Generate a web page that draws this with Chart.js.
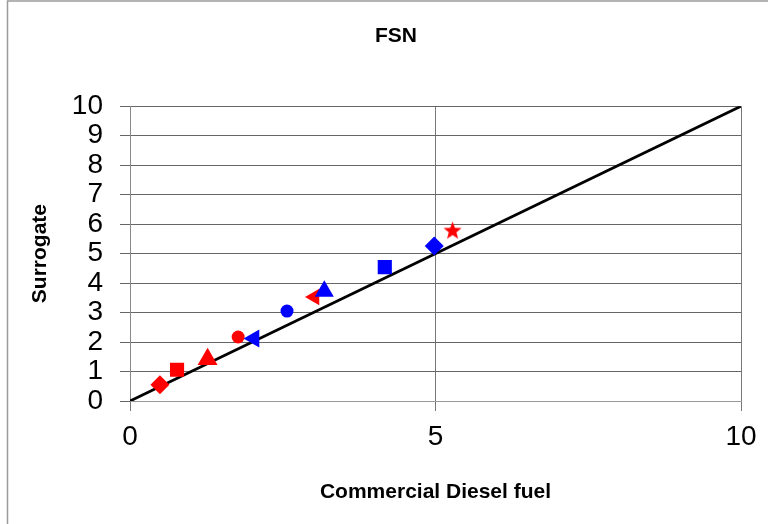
<!DOCTYPE html>
<html>
<head>
<meta charset="utf-8">
<script src="https://cdn.jsdelivr.net/npm/chart.js@4/dist/chart.umd.min.js"></script>
<style>
  body { margin: 0; background: #fff; }
</style>
</head>
<body>
<canvas id="fsnChart" width="768" height="524"></canvas>
<script>
// values
const fuelValues      = [0.49, 0.77, 1.27, 1.77, 2.03, 2.57, 3.02, 3.18, 4.17, 4.98, 5.28];
const surrogateValues = [0.55, 1.06, 1.42, 2.17, 2.12, 3.05, 3.53, 3.72, 4.54, 5.26, 5.80];
const parityX = [0, 10];
const parityY = [0, 10];

// marker looks, one per point
const RED = "#ff0000", BLUE = "#0000ff";
const markerColors = [RED, RED, RED, RED, BLUE, BLUE, RED, BLUE, BLUE, BLUE, RED];
const markerShapes = ["rectRot", "rect", "triangle", "circle", "triangle", "circle", "triangle", "triangle", "rect", "rectRot", "star"];
const markerRadius = [9.5, 10, 11.5, 6.5, 10.5, 6.5, 9.5, 11, 10, 9.5, 9];
const markerRotation = [0, 0, 0, 0, -90, 0, -90, 0, 0, 0, 0];

const FONT = "'Liberation Sans', Arial, sans-serif";

// filled five point star, chart.js "star" is only an asterisk
function starImage(color, outer, inner) {
    const c = document.createElement("canvas");
    c.width = c.height = Math.ceil(outer * 2 + 2);
    const g = c.getContext("2d");
    const cx = c.width / 2, cy = c.height / 2 + 1;
    g.beginPath();
    for (let i = 0; i < 10; i++) {
        const r = i % 2 ? inner : outer;
        const a = -Math.PI / 2 + i * Math.PI / 5;
        g.lineTo(cx + r * Math.cos(a), cy + r * Math.sin(a));
    }
    g.closePath();
    g.fillStyle = color;
    g.fill();
    return c;
}

const pointStyles = markerShapes.map((s, i) => s === "star" ? starImage(markerColors[i], markerRadius[i] + 0.5, 4) : s);

const framePlugin = {
    id: "frame",
    beforeDraw(chart) {
        const ctx = chart.ctx;
        ctx.save();
        ctx.strokeStyle = "#9a9a9a";
        ctx.lineWidth = 1.5;
        ctx.beginPath();
        ctx.moveTo(7.5, chart.height);
        ctx.lineTo(7.5, 1);
        ctx.lineTo(chart.width, 1);
        ctx.stroke();
        ctx.restore();
    }
};

new Chart(document.getElementById("fsnChart"), {
    type: "scatter",
    data: {
        datasets: [
            {
                label: "FSN",
                data: fuelValues.map((x, i) => ({ x: x, y: surrogateValues[i] })),
                backgroundColor: markerColors,
                borderColor: markerColors,
                borderWidth: 0,
                pointStyle: pointStyles,
                pointRadius: markerRadius,
                pointRotation: markerRotation,
                pointHoverRadius: markerRadius,
            },
            {
                type: "line",
                label: "y = x",
                data: parityX.map((x, i) => ({ x: x, y: parityY[i] })),
                borderColor: "#000",
                borderWidth: 2.8,
                pointRadius: 0,
                fill: false,
            },
        ],
    },
    options: {
        responsive: false,
        animation: false,
        layout: { padding: { left: 24, right: 0, top: 0, bottom: 0 } },
        plugins: {
            legend: { display: false },
            tooltip: { enabled: false },
            title: {
                display: true,
                text: "FSN",
                color: "#000",
                font: { family: FONT, size: 21, weight: "bold" },
                padding: { top: 24, bottom: 57 },
            },
        },
        scales: {
            x: {
                type: "linear",
                min: 0,
                max: 10,
                afterFit: (s) => { s.height = 123; },
                ticks: { stepSize: 5, autoSkip: false, maxRotation: 0, color: "#000", padding: 9, font: { family: FONT, size: 28 } },
                grid: { color: "#777", tickLength: 10, lineWidth: 1 },
                border: { color: "#999", width: 1 },
                title: {
                    display: true,
                    text: "Commercial Diesel fuel",
                    color: "#000",
                    font: { family: FONT, size: 21, weight: "bold" },
                    padding: { top: 0, bottom: 19 },
                },
            },
            y: {
                type: "linear",
                min: 0,
                max: 10,
                afterFit: (s) => { s.width = 106; },
                ticks: { stepSize: 1, autoSkip: false, color: "#000", padding: 17, font: { family: FONT, size: 28 } },
                grid: { color: "#666", tickLength: 10, lineWidth: 1 },
                border: { color: "#888", width: 1 },
                title: {
                    display: true,
                    text: "Surrogate",
                    color: "#000",
                    font: { family: FONT, size: 21, weight: "bold" },
                    padding: { top: 4, bottom: 0 },
                },
            },
            // empty right gutter so the title centres like the original
            gutter: {
                type: "linear",
                position: "right",
                display: true,
                afterFit: (s) => { s.width = 27; },
                ticks: { display: false },
                grid: { display: false },
                border: { display: false },
            },
        },
    },
    plugins: [framePlugin],
});
</script>
</body>
</html>
